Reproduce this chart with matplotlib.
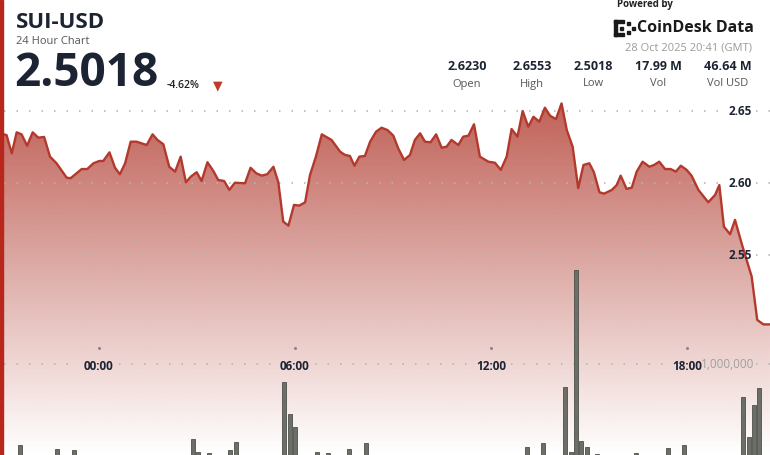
import numpy as np
import matplotlib.pyplot as plt
from matplotlib.colors import to_rgb
from matplotlib.patches import Polygon, Rectangle

plt.rcParams['font.family'] = ['Open Sans', 'DejaVu Sans']

# hours from 00:00 on 28 Oct (negative = evening of 27 Oct)
price_hours = [-2.91, -2.83, -2.67, -2.52, -2.37, -2.20, -2.03, -1.86, -1.68, -1.50,
               -1.30, -0.99, -0.87, -0.53, -0.36, -0.17, 0.01, 0.13, 0.32, 0.49,
               0.64, 0.80, 0.97, 1.15, 1.46, 1.64, 1.79, 1.97, 2.15, 2.33,
               2.50, 2.66, 2.81, 2.99, 3.14, 3.32, 3.50, 3.65, 3.83, 3.99,
               4.16, 4.47, 4.64, 4.81, 4.98, 5.15, 5.34, 5.49, 5.64, 5.80,
               5.97, 6.13, 6.31, 6.46, 6.64, 6.82, 7.12, 7.38, 7.53, 7.68,
               7.82, 7.97, 8.14, 8.30, 8.48, 8.65, 8.83, 9.01, 9.16, 9.34,
               9.52, 9.67, 9.83, 9.98, 10.15, 10.32, 10.49, 10.64, 10.79, 11.00,
               11.15, 11.31, 11.48, 11.66, 11.92, 12.12, 12.30, 12.48, 12.63, 12.81,
               12.97, 13.14, 13.30, 13.48, 13.65, 13.81, 13.99, 14.16, 14.32, 14.50,
               14.67, 14.83, 15.01, 15.15, 15.32, 15.46, 15.70, 15.85, 15.97, 16.15,
               16.31, 16.46, 16.64, 16.85, 16.99, 17.15, 17.33, 17.50, 17.66, 17.81,
               17.99, 18.14, 18.35, 18.65, 18.86, 18.99, 19.13, 19.32, 19.47, 19.67,
               19.98, 20.15, 20.34, 20.54]
price = [2.6338, 2.6333, 2.6206, 2.6352, 2.6338, 2.6259, 2.6352, 2.6315, 2.6320, 2.6183,
         2.6137, 2.6037, 2.6033, 2.6097, 2.6097, 2.6137, 2.6153, 2.6153, 2.6213, 2.6106,
         2.6061, 2.6137, 2.6287, 2.6287, 2.6264, 2.6338, 2.6299, 2.6269, 2.6113, 2.6079,
         2.6183, 2.6005, 2.6044, 2.6075, 2.6014, 2.6144, 2.6084, 2.6021, 2.6014, 2.5952,
         2.6002, 2.5998, 2.6106, 2.6068, 2.6051, 2.6061, 2.6113, 2.6005, 2.5732, 2.5704,
         2.5848, 2.5843, 2.5866, 2.6056, 2.6183, 2.6338, 2.6299, 2.6218, 2.6195, 2.6188,
         2.6120, 2.6183, 2.6188, 2.6287, 2.6356, 2.6384, 2.6368, 2.6329, 2.6241, 2.6160,
         2.6195, 2.6299, 2.6345, 2.6287, 2.6283, 2.6338, 2.6245, 2.6252, 2.6299, 2.6264,
         2.6322, 2.6329, 2.6408, 2.6183, 2.6148, 2.6141, 2.6091, 2.6183, 2.6375, 2.6322,
         2.6500, 2.6391, 2.6460, 2.6426, 2.6523, 2.6467, 2.6444, 2.6553, 2.6368, 2.6252,
         2.5964, 2.6125, 2.6137, 2.6075, 2.5936, 2.5926, 2.5952, 2.5986, 2.6051, 2.5959,
         2.5968, 2.6079, 2.6148, 2.6113, 2.6125, 2.6148, 2.6097, 2.6097, 2.6079, 2.6120,
         2.6091, 2.6051, 2.5952, 2.5866, 2.5917, 2.5986, 2.5697, 2.5644, 2.5744, 2.5582,
         2.5350, 2.5049, 2.5018, 2.5018]

vol_hours = [-2.42, -1.29, -0.77, 2.88, 3.03, 3.37, 4.01, 4.19, 5.66, 5.85,
             6.00, 6.67, 7.01, 7.65, 8.17, 13.10, 13.59, 14.27, 14.45, 14.60,
             14.76, 14.94, 15.25, 16.44, 17.42, 17.91, 19.71, 19.90, 20.05, 20.20]
vol_m = [0.11, 0.066, 0.055, 0.176, 0.033, 0.022, 0.055, 0.143, 0.80, 0.45,
         0.31, 0.033, 0.022, 0.066, 0.13, 0.088, 0.13, 0.75, 0.033, 2.03,
         0.154, 0.088, 0.011, 0.022, 0.077, 0.11, 0.64, 0.20, 0.55, 0.74]

stat_values = ['2.6230', '2.6553', '2.5018', '17.99 M', '46.64 M']
stat_labels = ['Open', 'High', 'Low', 'Vol', 'Vol USD']
stat_x = [467, 532, 593, 658, 728]
time_ticks = [0, 6, 12, 18]
time_labels = ['00:00', '06:00', '12:00', '18:00']
price_ticks = [2.65, 2.60, 2.55]

W, H = 770, 455
navy = '#1c2433'
red = '#b3392d'
dots = dict(color='#b4b4b4', lw=1.2, ls=(0, (0.9, 6.6)))

fig = plt.figure(figsize=(W / 100, H / 100), dpi=100)


def px(x, y):
    return x / W, 1 - y / H


ax = fig.add_axes([4 / W, 0, 766 / W, 1])
xlo, xhi = -2.908, 20.541
ylo, yhi = 2.4111, 2.7271

# gradient fill under the price line
poly = Polygon(np.column_stack([[price_hours[0]] + price_hours + [price_hours[-1]],
                                [ylo] + price + [ylo]]),
               closed=True, facecolor='none', edgecolor='none')
ax.add_patch(poly)
n = 256
rgba = np.zeros((n, 1, 4))
rgba[..., :3] = to_rgb('#b03a2e')
rgba[:, 0, 3] = np.linspace(0, 0.8, n)
im = ax.imshow(rgba, extent=[xlo, xhi, ylo, max(price)], origin='lower',
               aspect='auto', zorder=1, interpolation='bilinear')
im.set_clip_path(poly)
ax.plot(price_hours, price, color=red, lw=1.7, zorder=3, solid_joinstyle='round')

for p in price_ticks:
    ax.axhline(p, xmin=0, xmax=0.932, zorder=2, **dots)
    ax.axhline(p, xmin=0.982, xmax=1, zorder=2, **dots)
    ax.text(0.961, p, f'{p:.2f}', transform=ax.get_yaxis_transform(),
            ha='center', va='center', fontsize=8.5, fontweight='bold', color=navy, zorder=5)

ax.set_xlim(xlo, xhi)
ax.set_ylim(ylo, yhi)
ax.axis('off')

# volume bars
ax2 = ax.twinx()
ax2.set_ylim(0, 5.0)
ax2.set_xlim(xlo, xhi)
ax2.bar(vol_hours, vol_m, width=0.12, color='#6c6f68', edgecolor='#4d504a',
        linewidth=0.6, zorder=3)
gaps = [(-0.6, 0.6), (5.4, 6.6), (11.4, 12.6), (17.4, 20.1)]
start = xlo
for g0, g1 in gaps:
    ax2.hlines(1.0, start, g0, zorder=2, **dots)
    start = g1
ax2.hlines(1.0, start, xhi, zorder=2, **dots)
ax2.text(20.05, 1.0, '1,000,000', ha='right', va='center', fontsize=8.5,
         color='#a0a0a0', zorder=4)
for t, lab in zip(time_ticks, time_labels):
    ax2.text(t, 1 - 367 / H, lab, transform=ax2.get_xaxis_transform(),
             ha='center', va='center', fontsize=8.5, fontweight='bold', color=navy, zorder=5)
    ax2.plot([t], [1 - 348 / H], transform=ax2.get_xaxis_transform(),
             marker='o', ms=1.2, color='#888888', zorder=5)
ax2.axis('off')

# left accent stripe
fig.add_artist(Rectangle((0, 0), 3 / W, 1, transform=fig.transFigure,
                         color='#b8261c', zorder=10))

# header
fig.text(*px(16, 22), 'SUI-USD', fontsize=16, fontweight='bold', color=navy, va='center')
fig.text(*px(16, 41), '24 Hour Chart', fontsize=8, color='#555555', va='center')
fig.text(*px(14, 74), '2.5018', fontsize=33, fontweight='bold', color=navy, va='center')
fig.text(*px(167, 86), '-4.62%', fontsize=7.5, fontweight='semibold', color='#222222', va='center')
fig.text(*px(213, 86), '\u25bc', fontsize=9, color='#c0392b', va='center',
         family=['DejaVu Sans'])

fig.text(*px(617, 5), 'Powered by', fontsize=7, fontweight='bold', color='#222222', va='center')
# simple logo mark
for (x0, y0, w, h) in [(614, 20, 3, 16), (614, 20, 10, 3), (614, 33, 10, 3),
                       (620, 27, 3, 3), (627, 22, 3, 3), (627, 31, 3, 3), (632, 27, 3, 3)]:
    fig.add_artist(Rectangle(px(x0, y0 + h), w / W, h / H, transform=fig.transFigure,
                             color='#1a1a1a'))
fig.text(*px(637, 28), 'CoinDesk Data', fontsize=11.5, fontweight='bold', color='#1a1a1a', va='center')
fig.text(*px(752, 48), '28 Oct 2025 20:41 (GMT)', fontsize=8, color='#9a9a9a',
         va='center', ha='right')
for x, v, lab in zip(stat_x, stat_values, stat_labels):
    fig.text(*px(x, 67), v, fontsize=9, fontweight='bold', color=navy, ha='center', va='center')
    fig.text(*px(x, 84), lab, fontsize=8, color='#555555', ha='center', va='center')

fig.savefig('out.png', dpi=100)
